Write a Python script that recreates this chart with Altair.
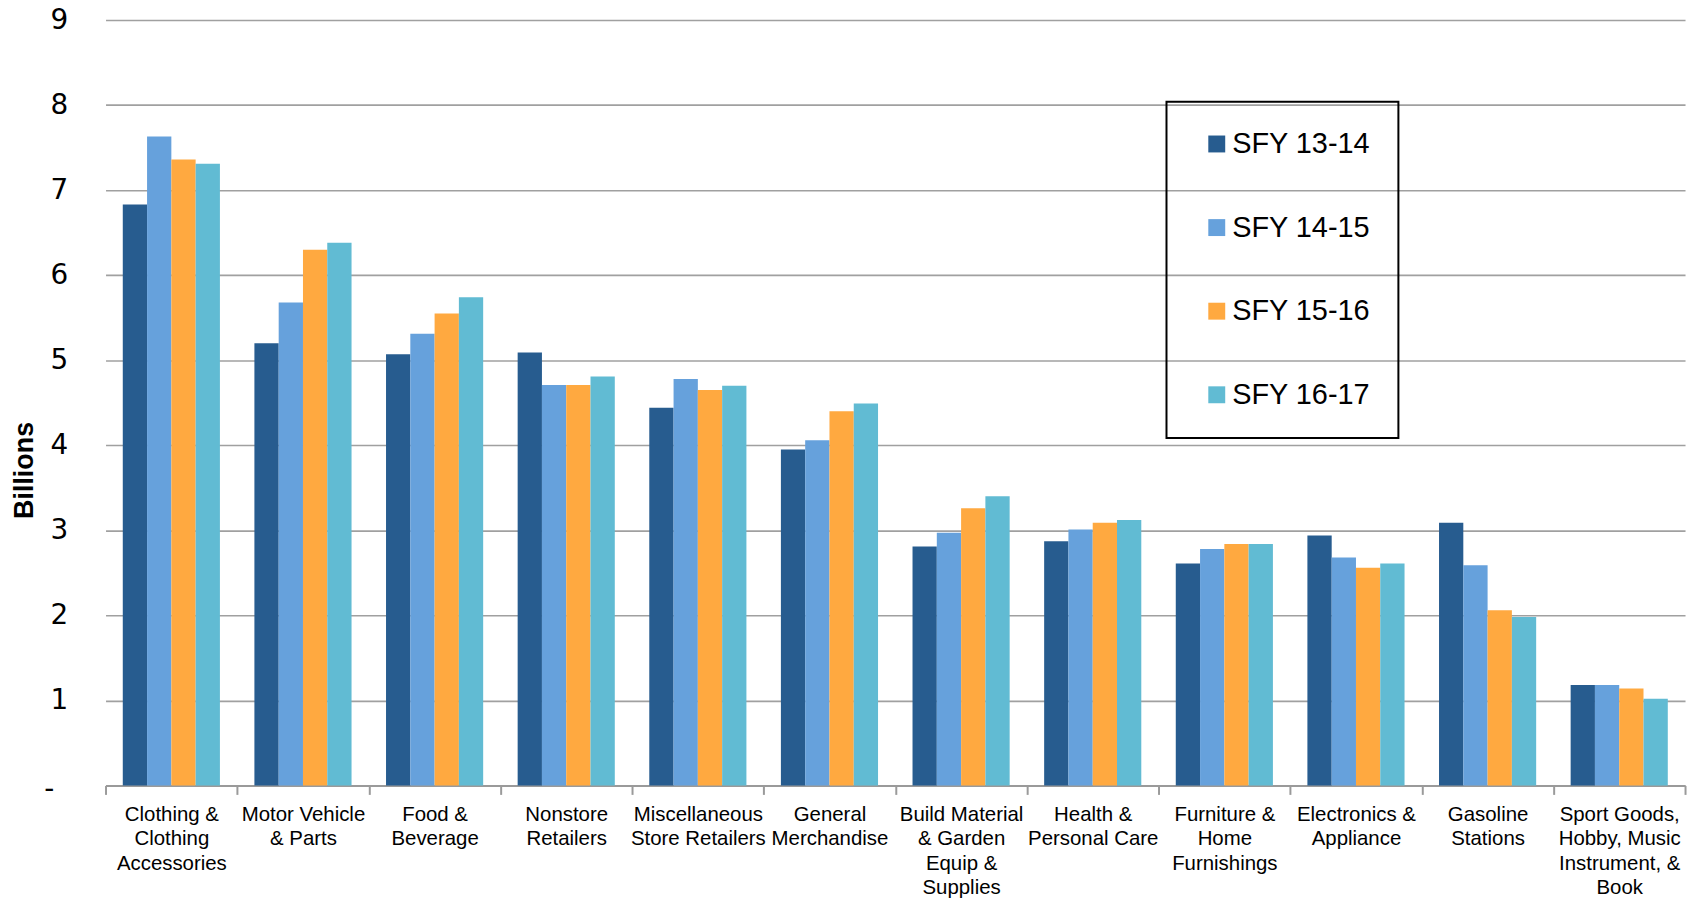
import altair as alt
import pandas as pd

categories = [
    "Clothing &\nClothing\nAccessories",
    "Motor Vehicle\n& Parts",
    "Food &\nBeverage",
    "Nonstore\nRetailers",
    "Miscellaneous\nStore Retailers",
    "General\nMerchandise",
    "Build Material\n& Garden\nEquip &\nSupplies",
    "Health &\nPersonal Care",
    "Furniture &\nHome\nFurnishings",
    "Electronics &\nAppliance",
    "Gasoline\nStations",
    "Sport Goods,\nHobby, Music\nInstrument, &\nBook",
]
series_names = ["SFY 13-14", "SFY 14-15", "SFY 15-16", "SFY 16-17"]
sfy_13_14 = [6.83, 5.20, 5.07, 5.09, 4.44, 3.95, 2.81, 2.87, 2.61, 2.94, 3.09, 1.18]
sfy_14_15 = [7.63, 5.68, 5.31, 4.71, 4.78, 4.06, 2.97, 3.01, 2.78, 2.68, 2.59, 1.18]
sfy_15_16 = [7.36, 6.30, 5.55, 4.71, 4.65, 4.40, 3.26, 3.09, 2.84, 2.56, 2.06, 1.14]
sfy_16_17 = [7.31, 6.38, 5.74, 4.81, 4.70, 4.49, 3.40, 3.12, 2.84, 2.61, 1.98, 1.02]
colors = ["#275C8F", "#66A1DC", "#FFA940", "#61BBD3"]
y_ticks = [0, 1, 2, 3, 4, 5, 6, 7, 8, 9]

rows = []
for name, vals in zip(series_names, [sfy_13_14, sfy_14_15, sfy_15_16, sfy_16_17]):
    for cat, v in zip(categories, vals):
        rows.append({"category": cat, "series": name, "value": v})
df = pd.DataFrame(rows)

label_font = "Liberation Sans, Arial, sans-serif"

chart = alt.Chart(df).mark_bar().encode(
    x=alt.X(
        "category:N",
        sort=categories,
        scale=alt.Scale(paddingInner=0, paddingOuter=0),
        axis=alt.Axis(
            title=None,
            labelAngle=0,
            labelExpr="split(datum.label, '\\n')",
            labelFont=label_font,
            labelFontSize=20.5,
            labelLineHeight=24.5,
            labelColor="#000000",
            labelBaseline="top",
            labelPadding=10,
            labelLimit=300,
            tickBand="extent",
            tickSize=9,
            tickColor="#9a9a9a",
            tickWidth=2,
            domainColor="#9a9a9a",
            domainWidth=2,
            grid=False,
        ),
    ),
    xOffset=alt.XOffset(
        "series:N",
        sort=series_names,
        scale=alt.Scale(paddingInner=0, paddingOuter=0.71),
    ),
    y=alt.Y(
        "value:Q",
        scale=alt.Scale(domain=[0, 9], nice=False),
        axis=alt.Axis(
            title="Billions",
            values=y_ticks,
            labelExpr="datum.value == 0 ? '-' : datum.label",
            labelFont="DejaVu Sans",
            labelFontSize=28,
            labelColor="#000000",
            labelPadding={"condition": {"test": "datum.value == 0", "value": 52}, "value": 38},
            labelOffset={"condition": {"test": "datum.value == 0", "value": 4}, "value": 0},
            ticks=False,
            domain=False,
            grid=True,
            gridColor="#a0a0a0",
            gridWidth=1.6,
            titleFont=label_font,
            titleFontSize=27,
            titleFontWeight="bold",
            titleColor="#000000",
            titleAngle=270,
            titleAlign="center",
            titleBaseline="middle",
            titleX=-81,
            titleY=452,
        ),
    ),
    color=alt.Color(
        "series:N",
        sort=series_names,
        scale=alt.Scale(domain=series_names, range=colors),
        legend=alt.Legend(
            title=None,
            orient="none",
            legendX=1066,
            legendY=82,
            padding=28,
            symbolType="square",
            symbolSize=289,
            symbolStrokeWidth=0,
            symbolOffset=8,
            labelFont="Liberation Sans",
            labelFontSize=29,
            labelColor="#000000",
            labelOffset=1,
            rowPadding=54,
            strokeColor="#000000",
        ),
    ),
).properties(
    width=1587,
    height=769,
    autosize=alt.AutoSizeParams(type="none"),
    padding={"left": 98, "top": 10, "right": 7, "bottom": 115},
).configure_view(stroke=None).configure_legend(strokeWidth=2)

chart.save("out.html", embed_options={"renderer": "svg", "actions": False})
